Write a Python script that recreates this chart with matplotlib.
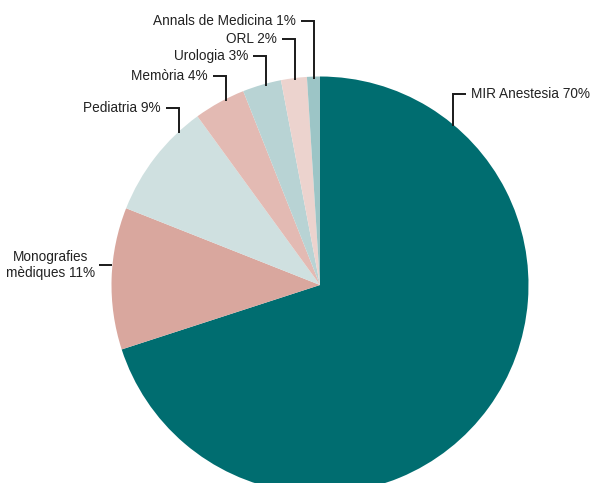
import matplotlib
matplotlib.use("Agg")
import matplotlib.pyplot as plt
import numpy as np

plt.rcParams['font.family'] = ['Liberation Sans', 'DejaVu Sans']

# Data
categories = ["MIR Anestesia", "Monografies\nmèdiques", "Pediatria", "Memòria",
              "Urologia", "ORL", "Annals de Medicina"]
values = [70, 11, 9, 4, 3, 2, 1]
colors = ["#006d70", "#d9a79e", "#cfe0e0", "#e3bab3", "#b8d3d4", "#ecd3ce", "#9cc5c6"]

W, H = 595, 483
cx, cy, R = 320, H - 285, 208.5

# label layout (pixel positions, y from top): leader x on circle, label y
leader_x = [453, None, 179, 226, 266, 295, 314]
label_y = [94, 265, 108, 76, 56, 39, 21]
side = [1, -1, -1, -1, -1, -1, -1]

fig = plt.figure(figsize=(W / 100, H / 100), dpi=100)
ax = fig.add_axes([0, 0, 1, 1])
ax.pie(values, colors=colors, startangle=90, counterclock=False,
       center=(cx, cy), radius=R, frame=True,
       wedgeprops=dict(linewidth=0))
ax.set_xlim(0, W)
ax.set_ylim(0, H)
ax.set_aspect('equal')
ax.axis('off')

lc = "#1a1a1a"
fs = 9.8
for cat, v, lx, ly, s in zip(categories, values, leader_x, label_y, side):
    Y = H - ly
    txt = f"{cat} {v}%"
    if lx is None:
        ex = cx - np.sqrt(R**2 - (Y - cy)**2)
        ax.plot([ex - 13, ex], [Y, Y], color=lc, lw=1.4, solid_capstyle='butt')
        ax.text(ex - 13 - 4, Y, txt, ha='right', va='center', fontsize=fs,
                color="#222222", linespacing=1.1, multialignment='center')
    else:
        ey = cy + np.sqrt(R**2 - (lx - cx)**2)
        ax.plot([lx, lx, lx + s * 13], [ey - 2, Y, Y], color=lc, lw=1.4,
                solid_joinstyle='miter', solid_capstyle='butt')
        ax.text(lx + s * 13 + s * 5, Y, txt, ha='left' if s > 0 else 'right',
                va='center', fontsize=fs, color="#222222")

fig.savefig("out.png", dpi=100)
